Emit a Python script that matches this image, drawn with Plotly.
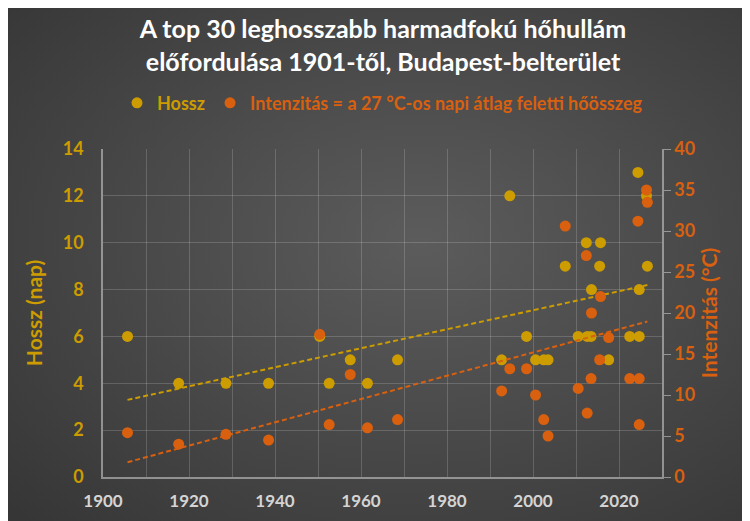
import numpy as np
import plotly.graph_objects as go

# event positions (year) and values
years = [1905.7, 1917.6, 1928.6, 1938.5, 1950.4, 1952.6, 1957.5, 1961.5, 1968.5,
         1992.7, 1994.6, 1998.5, 2000.6, 2002.5, 2003.5, 2007.5, 2010.5, 2012.4,
         2012.6, 2013.6, 2013.5, 2015.7, 2015.5, 2017.6, 2022.5, 2024.4, 2024.7,
         2024.7, 2026.4, 2026.6]
hossz = [6, 4, 4, 4, 6, 4, 5, 4, 5,
         5, 12, 6, 5, 5, 5, 9, 6, 10,
         6, 8, 6, 10, 9, 5, 6, 13, 6,
         8, 12, 9]
intenzitas = [5.4, 4.0, 5.2, 4.5, 17.4, 6.4, 12.5, 6.0, 7.0,
              10.5, 13.2, 13.2, 10.0, 7.0, 5.0, 30.6, 10.8, 27.0,
              7.8, 20.0, 12.0, 22.0, 14.3, 17.0, 12.0, 31.2, 12.0,
              6.4, 35.0, 33.5]

GOLD = '#CC9C00'
ORANGE = '#D8600F'
FONT = 'Lato'

x = np.array(years)
# linear trends, like Excel trendlines
xt = np.array([x.min(), x.max()])
k1, b1 = np.polyfit(x, hossz, 1)
k2, b2 = np.polyfit(x, intenzitas, 1)

fig = go.Figure()

fig.add_trace(go.Scatter(x=xt, y=k1 * xt + b1, mode='lines', showlegend=False,
                         line=dict(color=GOLD, width=2, dash='5px,3px')))
fig.add_trace(go.Scatter(x=xt, y=k2 * xt + b2, mode='lines', showlegend=False,
                         line=dict(color=ORANGE, width=2, dash='5px,3px'), yaxis='y2'))

fig.add_trace(go.Scatter(x=years, y=hossz, mode='markers',
                         name=f'<span style="color:{GOLD}">Hossz</span>',
                         marker=dict(color=GOLD, size=11)))
fig.add_trace(go.Scatter(x=years, y=intenzitas, mode='markers', yaxis='y2',
                         name=f'<span style="color:{ORANGE}">Intenzitás = a 27 °C-os napi átlag feletti hőösszeg</span>',
                         marker=dict(color=ORANGE, size=11)))

# soft radial background like the original slide
bg_svg = ("<svg xmlns='http://www.w3.org/2000/svg' width='750' height='521'>"
          "<defs><radialGradient id='g' cx='55%' cy='45%' r='75%'>"
          "<stop offset='0%' stop-color='#5c5c5c'/><stop offset='100%' stop-color='#363636'/>"
          "</radialGradient></defs><rect width='750' height='521' fill='url(#g)'/></svg>")
bg_uri = 'data:image/svg+xml;charset=utf-8,' + bg_svg.replace('#', '%23').replace('<', '%3C').replace('>', '%3E')

grid = 'rgba(255,255,255,0.17)'
axis_line = 'rgba(200,200,200,0.6)'

fig.update_layout(
    width=750, height=521,
    margin=dict(l=95, r=96, t=141, b=52),
    paper_bgcolor='#444444',
    plot_bgcolor='rgba(0,0,0,0)',
    images=[dict(source=bg_uri, xref='paper', yref='paper', x=-0.17, y=1.43,
                 sizex=1.342, sizey=1.588, xanchor='left', yanchor='top',
                 sizing='stretch', layer='below')],
    title=dict(text='A top 30 leghosszabb harmadfokú hőhullám<br>előfordulása 1901-től, Budapest-belterület',
               x=0.5, xanchor='center', y=0.942, yanchor='middle',
               font=dict(family=FONT, size=25, color='white', weight='bold')),
    legend=dict(orientation='h', x=0.5, xanchor='center', y=1.14, yanchor='middle',
                font=dict(family=FONT, size=18, weight='bold'), itemwidth=30,
                tracegroupgap=0, bgcolor='rgba(0,0,0,0)'),
    xaxis=dict(range=[1900, 2030], dtick=20, tick0=1900, showgrid=True, gridcolor=grid,
               minor=dict(dtick=10, showgrid=True, gridcolor=grid),
               showline=True, linecolor=axis_line, linewidth=1.5, zeroline=False,
               tickfont=dict(family=FONT, size=17, color='#D4D4D4', weight='bold'),
               ticks='', ticklabelstandoff=8),
    yaxis=dict(range=[0, 14], dtick=2, showgrid=True, gridcolor=grid,
               showline=True, linecolor=axis_line, linewidth=1.5, zeroline=False,
               ticklabelstandoff=14,
               tickfont=dict(family=FONT, size=18, color=GOLD, weight='bold'),
               title=dict(text='Hossz (nap)', font=dict(family=FONT, size=21, color=GOLD, weight='bold'),
                          standoff=14)),
    yaxis2=dict(range=[0, 40], dtick=5, overlaying='y', side='right', showgrid=False,
                showline=True, linecolor=axis_line, linewidth=1.5, zeroline=False,
                ticks='outside', ticklen=7, tickcolor=axis_line,
                tickfont=dict(family=FONT, size=18, color=ORANGE, weight='bold'),
                title=dict(text='Intenzitás (°C)', font=dict(family=FONT, size=21, color=ORANGE, weight='bold'),
                           standoff=8)),
)

fig.write_html("out.html")
